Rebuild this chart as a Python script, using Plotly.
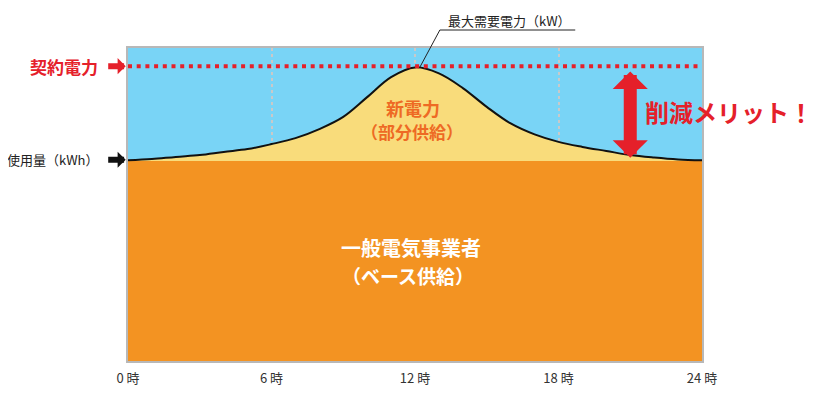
import plotly.graph_objects as go

# ---- data ----
hours = list(range(25))
usage = [64.1, 64.5, 65.2, 65.8, 66.8, 67.7, 69.3, 71.2, 74.1, 78.0, 84.3, 90.7, 93.8,
         91.9, 87.2, 81.2, 75.9, 72.4, 70.0, 68.4, 67.1, 65.8, 65.0, 64.4, 64.1]
base_supply = 63.9        # 一般電気事業者（ベース）
contract_power = 94.2     # 契約電力
peak_hour = 12.2
peak_value = 93.8
tick_hours = [0, 6, 12, 18, 24]
tick_labels = ["0 時", "6 時", "12 時", "18 時", "24 時"]

BLUE = "#79D4F6"
YELLOW = "#F9DC7B"
ORANGE = "#F39322"
RED = "#E5202A"
TXT_ORANGE = "#EE6A24"
FONT = "Noto Sans CJK JP"

fig = go.Figure()

# yellow area under usage curve
fig.add_trace(go.Scatter(x=hours, y=usage, mode="lines", fill="tozeroy",
                         fillcolor=YELLOW, line=dict(width=0, shape="spline"),
                         hoverinfo="skip"))
# orange base supply
fig.add_trace(go.Scatter(x=[hours[0], hours[-1]], y=[base_supply, base_supply],
                         mode="lines", fill="tozeroy", fillcolor=ORANGE,
                         line=dict(width=0), hoverinfo="skip"))
# usage curve line
fig.add_trace(go.Scatter(x=hours, y=usage, mode="lines",
                         line=dict(color="#111111", width=2, shape="spline"),
                         hoverinfo="skip"))
# contract power dotted line
fig.add_trace(go.Scatter(x=[hours[0], hours[-1]], y=[contract_power, contract_power],
                         mode="lines", line=dict(color=RED, width=4, dash="4px,4.7px"),
                         hoverinfo="skip"))


def label(text, x, y, size, color, xref="x", yref="y", xanchor="center"):
    return dict(text=text, x=x, y=y, xref=xref, yref=yref, xanchor=xanchor,
                yanchor="middle", showarrow=False,
                font=dict(family=FONT, size=size, color=color))


annotations = [
    label("<b>契約電力</b>", -0.048, contract_power / 100, 17, RED, "paper", "paper", "right"),
    label("使用量（kWh）", -0.048, base_supply / 100 + 0.004, 13, "#222222", "paper", "paper", "right"),
    # small arrows at left
    dict(text="", x=-0.004, y=contract_power / 100, xref="paper", yref="paper",
         showarrow=True, ax=-19, ay=0, axref="pixel", ayref="pixel",
         arrowhead=1, arrowwidth=6, arrowsize=0.45, arrowcolor=RED, standoff=0),
    dict(text="", x=-0.004, y=base_supply / 100 + 0.004, xref="paper", yref="paper",
         showarrow=True, ax=-19, ay=0, axref="pixel", ayref="pixel",
         arrowhead=1, arrowwidth=6, arrowsize=0.45, arrowcolor="#111111", standoff=0),
    # top label
    label("最大需要電力（kW）", 15.95, 1.089, 13, "#222222", "x", "paper"),
    # middle labels
    label("<b>新電力</b>", 11.9, 80.8, 18, TXT_ORANGE),
    label("<b>（部分供給）</b>", 11.87, 73.3, 17, TXT_ORANGE),
    label("<b>一般電気事業者</b>", 11.83, 36.4, 20, "white"),
    label("<b>（ベース供給）</b>", 11.7, 27.2, 19, "white"),
    label("<b>削減メリット！</b>", 21.55, 79.6, 24, RED, xanchor="left"),
    # red double arrow
    dict(text="", x=21.0, y=base_supply + 1.0, xref="x", yref="y",
         ax=21.0, ay=contract_power - 1.2, axref="x", ayref="y",
         showarrow=True, arrowside="end+start", arrowhead=1, startarrowhead=1,
         arrowwidth=13, arrowsize=0.45, startarrowsize=0.45, arrowcolor=RED,
         standoff=0, startstandoff=0),
]

shapes = [
    # leader line to peak
    dict(type="line", xref="x", yref="paper", x0=peak_hour, y0=peak_value / 100,
         x1=13.04, y1=1.0575, line=dict(color="#222222", width=1)),
    dict(type="line", xref="x", yref="paper", x0=13.04, y0=1.0575,
         x1=18.7, y1=1.0575, line=dict(color="#222222", width=1)),
]

fig.update_layout(
    width=814, height=381,
    margin=dict(l=120, r=120, t=40, b=28, autoexpand=False),
    paper_bgcolor="white", plot_bgcolor=BLUE,
    showlegend=False,
    annotations=annotations, shapes=shapes,
    font=dict(family=FONT),
    xaxis=dict(range=[0, 24], tickvals=tick_hours, ticktext=tick_labels,
               showgrid=True, gridcolor="#C9C9C9", griddash="dot", gridwidth=1.5,
               zeroline=False, showline=True, linecolor="#B8B8B8", linewidth=2,
               mirror=True, ticks="", ticklabelstandoff=4, layer="above traces",
               automargin=False,
               tickfont=dict(family=FONT, size=13, color="#333333"), fixedrange=True),
    yaxis=dict(range=[0, 100], showticklabels=False, showgrid=False, zeroline=False,
               showline=True, linecolor="#B8B8B8", linewidth=2, mirror=True,
               automargin=False, ticks="", fixedrange=True),
)

fig.write_html("out.html", config={"displayModeBar": False})
